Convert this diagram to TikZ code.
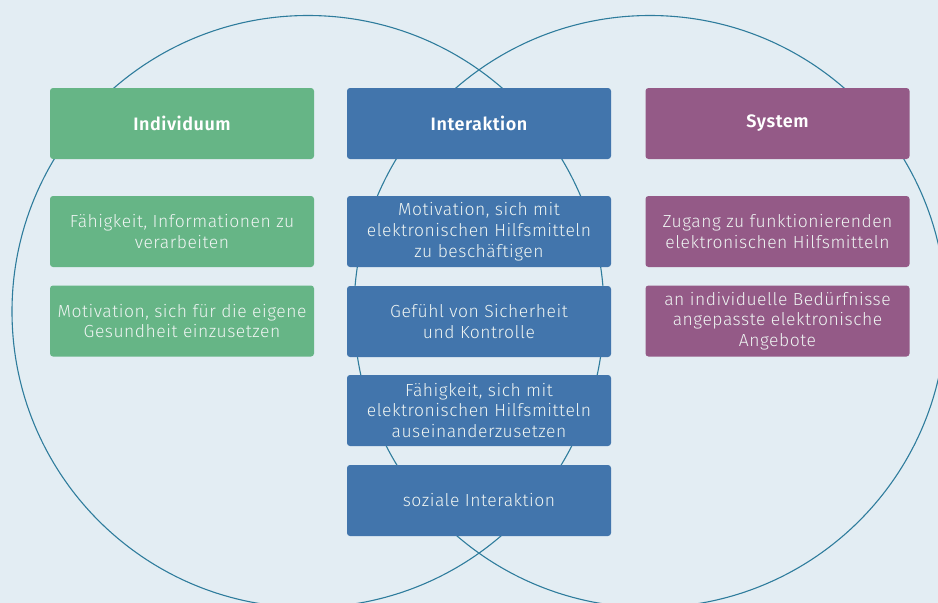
\documentclass[tikz,border=0pt]{standalone}
\usepackage{fontspec}
\setmainfont{Fira Sans}[UprightFont=* Light, BoldFont=* SemiBold, LetterSpace=3]
\definecolor{bgc}{HTML}{E3EDF3}
\definecolor{ringc}{HTML}{2E7C9C}
\definecolor{greenc}{HTML}{66B586}
\definecolor{bluec}{HTML}{4275AC}
\definecolor{purplec}{HTML}{945A87}
\definecolor{txtc}{HTML}{EEF4F2}
\tikzset{
  card/.style={rectangle, rounded corners=3pt, minimum width=264pt, minimum height=71pt,
    inner sep=0pt, align=center, text=txtc,
    font=\fontsize{17.5}{20.8}\selectfont},
  head/.style={card, text=white, font=\fontsize{18}{21}\selectfont\bfseries},
  ring/.style={draw=ringc, line width=1.1pt}
}
\begin{document}
\begin{tikzpicture}[x=1pt,y=-1pt]
\fill[bgc] (0,0) rectangle (938,603);
\useasboundingbox (0,0) rectangle (938,603);
\draw[ring] (308,311.5) circle (296pt);
\draw[ring] (650,311.5) circle (296pt);
% headers
\node[head, fill=greenc] (ind) at (182,123.5) {Individuum};
\node[head, fill=bluec] (int) at (479,123.5) {Interaktion};
\node[head, fill=purplec] (sys) at (777.5,123.5) {System};
% Individuum
\node[card, fill=greenc] (i1) at (182,231.5) {Fähigkeit, Informationen zu\\verarbeiten};
\node[card, fill=greenc] (i2) at (182,321) {Motivation, sich für die eigene\\Gesundheit einzusetzen};
% Interaktion
\node[card, fill=bluec] (n1) at (479,231.5) {Motivation, sich mit\\elektronischen Hilfsmitteln\\zu beschäftigen};
\node[card, fill=bluec] (n2) at (479,321.5) {Gefühl von Sicherheit\\und Kontrolle};
\node[card, fill=bluec] (n3) at (479,410.5) {Fähigkeit, sich mit\\elektronischen Hilfsmitteln\\auseinanderzusetzen};
\node[card, fill=bluec] (n4) at (479,500.5) {soziale Interaktion};
% System
\node[card, fill=purplec] (s1) at (777.5,231.5) {Zugang zu funktionierenden\\elektronischen Hilfsmitteln};
\node[card, fill=purplec] (s2) at (777.5,321) {an individuelle Bedürfnisse\\angepasste elektronische\\Angebote};
\end{tikzpicture}
\end{document}
